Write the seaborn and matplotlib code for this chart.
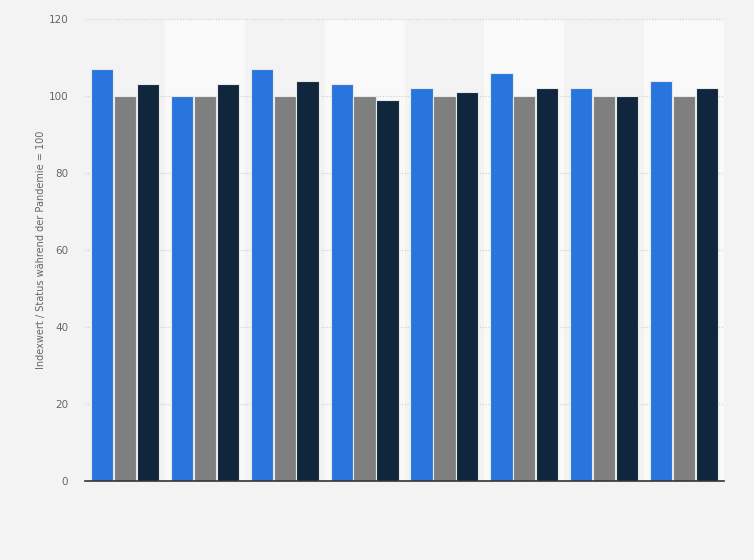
import matplotlib
matplotlib.use("Agg")
import matplotlib.pyplot as plt
import numpy as np
import pandas as pd
import seaborn as sns

# values (index, status during pandemic = 100)
groups = ["1", "2", "3", "4", "5", "6", "7", "8"]
series = ["Reihe 1", "Reihe 2", "Reihe 3"]
values_blue = [107, 100, 107, 103, 102, 106, 102, 104]
values_gray = [100, 100, 100, 100, 100, 100, 100, 100]
values_navy = [103, 103, 104, 99, 101, 102, 100, 102]
colors = ["#2876dd", "#7f7f7f", "#0f263d"]
y_ticks = [0, 20, 40, 60, 80, 100, 120]
y_label = "Indexwert / Status während der Pandemie = 100"

df = pd.DataFrame({
    "gruppe": groups * 3,
    "reihe": [series[0]] * 8 + [series[1]] * 8 + [series[2]] * 8,
    "wert": values_blue + values_gray + values_navy,
})

sns.set_style("white")
plt.rcParams['font.family'] = ['DejaVu Sans']

fig = plt.figure(figsize=(7.54, 5.6), dpi=100, facecolor="#f3f3f3")
ax = fig.add_axes([85 / 754, 79 / 560, 639 / 754, 462 / 560])
ax.set_facecolor("#f3f3f3")

# lighter background band behind every second group
for i in range(1, len(groups), 2):
    ax.axvspan(i - 0.5, i + 0.5, color="#f9f9f9", zorder=0, lw=0)

sns.barplot(data=df, x="gruppe", y="wert", hue="reihe", palette=colors,
            saturation=1, width=0.86, gap=0.03, edgecolor="#e8e8e8",
            linewidth=0.8, legend=False, ax=ax, zorder=3)

ax.set_xlim(-0.5, len(groups) - 0.5)
ax.set_ylim(0, 120)
ax.set_yticks(y_ticks)
ax.set_yticklabels([str(t) for t in y_ticks], fontsize=7.5, color="#666666")
ax.set_xticks([])
ax.set_xlabel("")
ax.set_ylabel(y_label, fontsize=7, color="#666666", labelpad=2)
ax.tick_params(axis="y", length=0, pad=12)

ax.yaxis.grid(True, linestyle=(0, (1, 1.5)), color="#cccccc", linewidth=0.8, zorder=1)
ax.set_axisbelow(True)
for s in ["left", "right", "top"]:
    ax.spines[s].set_visible(False)
ax.spines["bottom"].set_color("#333333")
ax.spines["bottom"].set_linewidth(1.2)
ax.spines["bottom"].set_zorder(5)

fig.savefig("out.png", dpi=100, facecolor=fig.get_facecolor())
